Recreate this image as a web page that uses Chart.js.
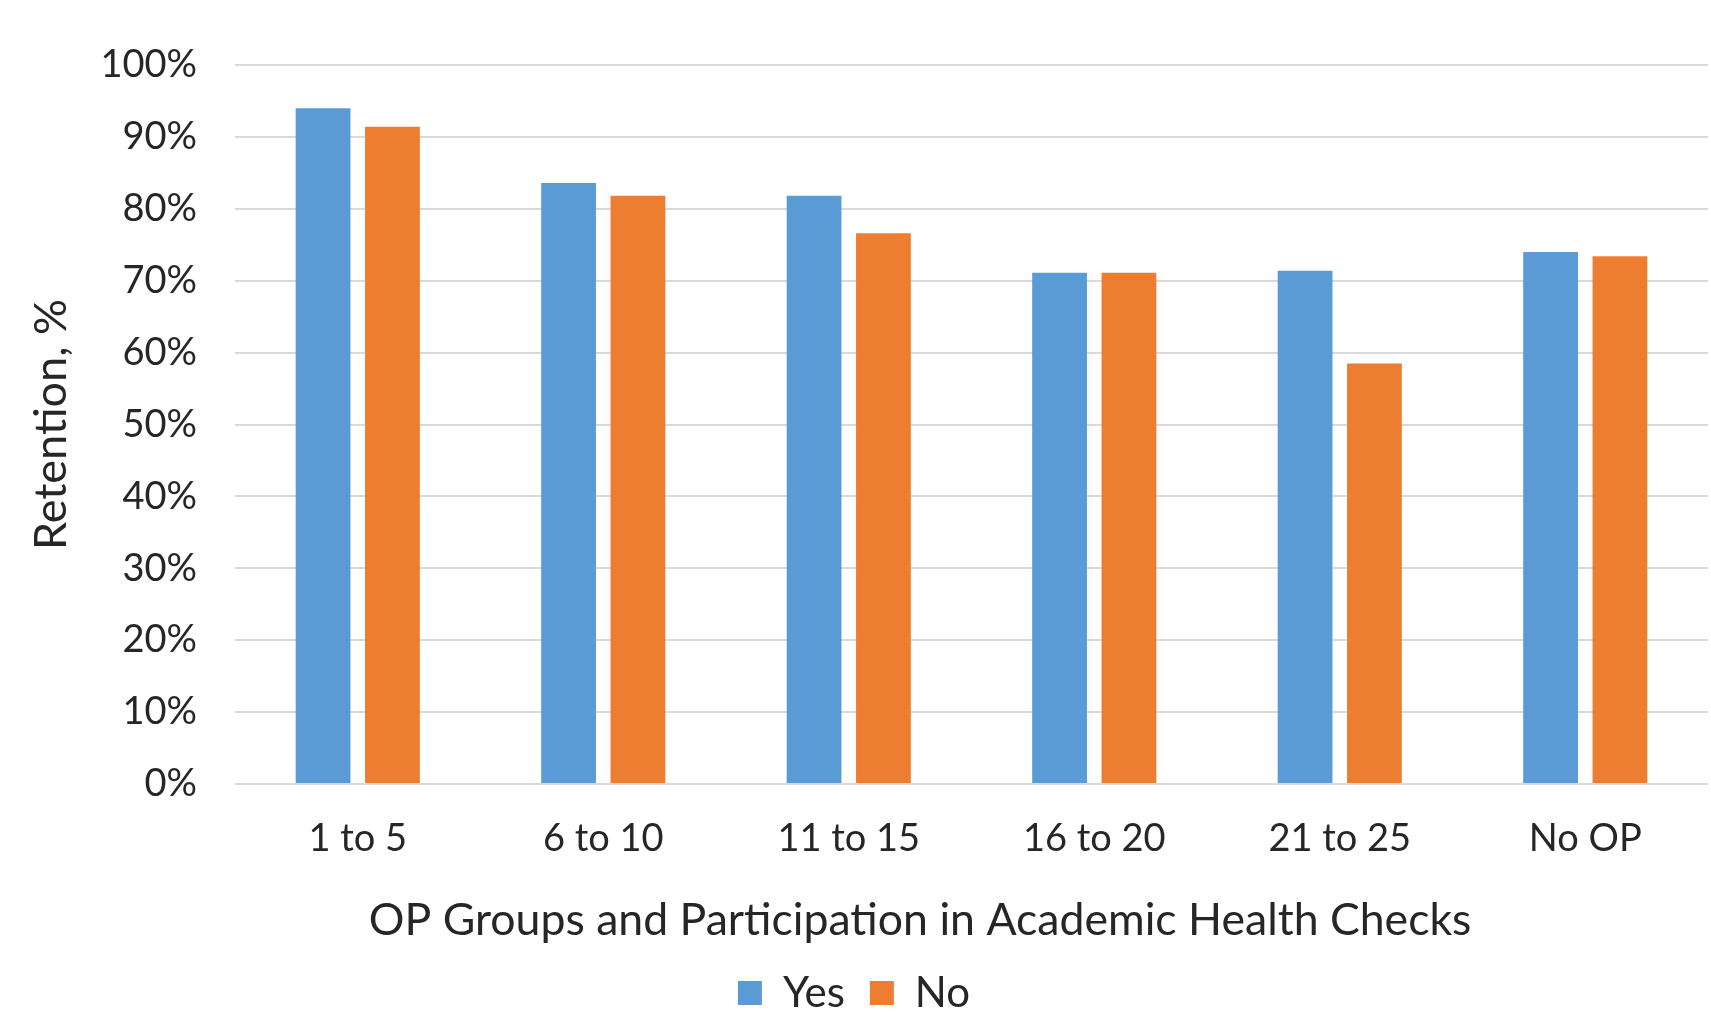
<!DOCTYPE html>
<html>
<head>
<meta charset="utf-8">
<title>Retention by OP group</title>
<script src="https://cdn.jsdelivr.net/npm/chart.js@4/dist/chart.umd.min.js"></script>
<style>
  html, body { margin: 0; padding: 0; background: #fff; }
  #wrap { width: 1711px; height: 1012px; }
</style>
</head>
<body>
<div id="wrap"><canvas id="retentionChart" width="1711" height="1012"></canvas></div>
<script>
// Data
const categories = ['1 to 5', '6 to 10', '11 to 15', '16 to 20', '21 to 25', 'No OP'];
const yesValues = [94.0, 83.6, 81.8, 71.1, 71.4, 74.0];
const noValues = [91.4, 81.8, 76.6, 71.1, 58.5, 73.4];
const seriesNames = ['Yes', 'No'];
const yTicks = [0, 10, 20, 30, 40, 50, 60, 70, 80, 90, 100];

const fontFamily = 'Lato, "Open Sans", sans-serif';
const textColor = '#262626';
const gridColor = '#d9d9d9';

// x title sits a bit left of the plot centre in the original, pad it with trailing spaces
const xTitle = 'OP Groups and Participation in Academic Health Checks' + '\u00a0'.repeat(9);

const ctx = document.getElementById('retentionChart');
const chart = new Chart(ctx, {
    type: 'bar',
    data: {
        labels: categories,
        datasets: [
            {
                label: seriesNames[0],
                data: yesValues,
                backgroundColor: '#5b9bd5',
                categoryPercentage: 0.565,
                barPercentage: 0.79
            },
            {
                label: seriesNames[1],
                data: noValues,
                backgroundColor: '#ed7d31',
                categoryPercentage: 0.565,
                barPercentage: 0.79
            }
        ]
    },
    options: {
        responsive: false,
        animation: false,
        layout: {
            padding: { top: 65, right: 3, left: 0, bottom: -12 }
        },
        plugins: {
            tooltip: { enabled: false },
            legend: {
                position: 'bottom',
                labels: {
                    boxWidth: 24,
                    boxHeight: 24,
                    padding: 25,
                    color: textColor,
                    font: { family: fontFamily, size: 42 }
                }
            }
        },
        scales: {
            x: {
                grid: { display: false },
                border: { display: false },
                ticks: {
                    color: textColor,
                    padding: 24,
                    font: { family: fontFamily, size: 38 }
                },
                title: {
                    display: true,
                    text: xTitle,
                    color: textColor,
                    padding: { top: 20, bottom: 0 },
                    font: { family: fontFamily, size: 44.6 }
                },
                afterFit: (scale) => { scale.height = 163; }
            },
            y: {
                min: 0,
                max: 100,
                afterBuildTicks: (scale) => {
                    scale.ticks = yTicks.map(v => ({ value: v }));
                },
                grid: {
                    color: gridColor,
                    lineWidth: 2,
                    drawTicks: false
                },
                border: { display: false },
                ticks: {
                    color: textColor,
                    padding: 38,
                    font: { family: fontFamily, size: 38 },
                    callback: (v) => v + '%'
                },
                title: {
                    display: true,
                    text: 'Retention, %',
                    color: textColor,
                    padding: { top: 24, bottom: 0 },
                    font: { family: fontFamily, size: 45 }
                },
                afterFit: (scale) => { scale.width = 235; }
            }
        }
    }
});
</script>
</body>
</html>
